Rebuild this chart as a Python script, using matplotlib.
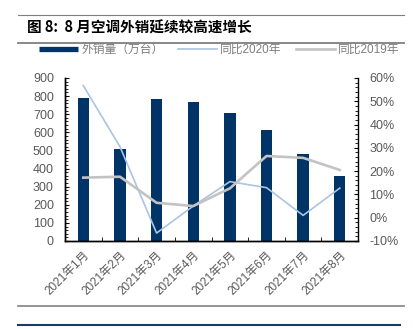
import matplotlib.pyplot as plt
from matplotlib.lines import Line2D
from matplotlib.ticker import MultipleLocator, FuncFormatter

plt.rcParams['font.family'] = ['Liberation Sans', 'Noto Sans CJK SC', 'DejaVu Sans']

months = ["2021年1月", "2021年2月", "2021年3月", "2021年4月",
          "2021年5月", "2021年6月", "2021年7月", "2021年8月"]
exports = [788, 506, 784, 766, 708, 613, 480, 359]          # 万台
yoy_2020 = [56.7, 30.5, -6.6, 5.0, 15.5, 12.9, 1.0, 12.7]   # %
yoy_2019 = [17.2, 17.6, 6.4, 5.0, 12.6, 26.5, 25.7, 20.5]   # %

navy = "#003366"
lblue = "#a9c4e4"
lgray = "#c3c3c3"
txt = "#595959"

fig = plt.figure(figsize=(4.14, 3.29), dpi=100)
ax = fig.add_axes([0.157, 0.2675, 0.708, 0.4955])
ax2 = ax.twinx()

x = list(range(len(months)))
ax.bar(x, exports, width=0.31, color=navy, zorder=2)
ax2.plot(x, yoy_2020, color=lblue, lw=1.2, zorder=3)
ax2.plot(x, yoy_2019, color=lgray, lw=1.9, zorder=3)

ax.set_xlim(-0.5, len(months) - 0.5)
ax.set_ylim(0, 900)
ax2.set_ylim(-10, 60)
ax.yaxis.set_major_locator(MultipleLocator(100))
ax.yaxis.set_minor_locator(MultipleLocator(20))
ax2.yaxis.set_major_locator(MultipleLocator(10))
ax2.yaxis.set_minor_locator(MultipleLocator(2))
ax2.yaxis.set_major_formatter(FuncFormatter(lambda v, p: f"{v:.0f}%"))

ax.set_xticks(x)
ax.set_xticklabels(months, rotation=45, ha='right', rotation_mode='anchor',
                   fontsize=8.5, color=txt)
ax.set_xticks([i + 0.5 for i in x[:-1]], minor=True)
ax.tick_params(axis='x', which='major', length=0, pad=6)
ax.tick_params(axis='x', which='minor', direction='in', length=3)
ax.tick_params(axis='y', which='major', direction='in', length=3,
               labelsize=9, labelcolor=txt, pad=8)
ax.tick_params(axis='y', which='minor', direction='in', length=2)
ax2.tick_params(axis='y', which='major', direction='in', length=3,
                labelsize=9, labelcolor=txt, pad=8)
ax2.tick_params(axis='y', which='minor', direction='in', length=2)

for a in (ax, ax2):
    a.spines['top'].set_visible(False)
    for s in ('left', 'right', 'bottom'):
        a.spines[s].set_linewidth(1.0)
ax.spines['right'].set_visible(False)

handles = [Line2D([], [], color=navy, lw=3.8, solid_capstyle='butt'),
           Line2D([], [], color=lblue, lw=1.2),
           Line2D([], [], color=lgray, lw=1.9)]
labels = ["外销量（万台）", "同比2020年", "同比2019年"]
leg = fig.legend(handles, labels, loc='center', bbox_to_anchor=(0.53, 0.848),
                 ncol=3, frameon=False, fontsize=8.5, handlelength=3.3,
                 handletextpad=0.3, columnspacing=1.2)
for t in leg.get_texts():
    t.set_color("#7f7f7f")

fig.text(0.066, 0.915, "图 8:  8 月空调外销延续较高速增长", fontsize=10.5,
         fontweight='bold', va='center', family=['Noto Sans CJK SC', 'DejaVu Sans'])

# decorative rules
fig.add_artist(Line2D([0.043, 0.976], [0.955, 0.955], color="#7f7f7f", lw=0.8))
fig.add_artist(Line2D([0.043, 0.976], [0.869, 0.869], color="#7f7f7f", lw=1.3))
fig.add_artist(Line2D([0.043, 0.976], [0.070, 0.070], color="#8c8c8c", lw=1.3))
fig.add_artist(Line2D([0.043, 0.966], [0.012, 0.012], color="#1f3a5f", lw=1.5))

fig.savefig("out.png", dpi=100)
